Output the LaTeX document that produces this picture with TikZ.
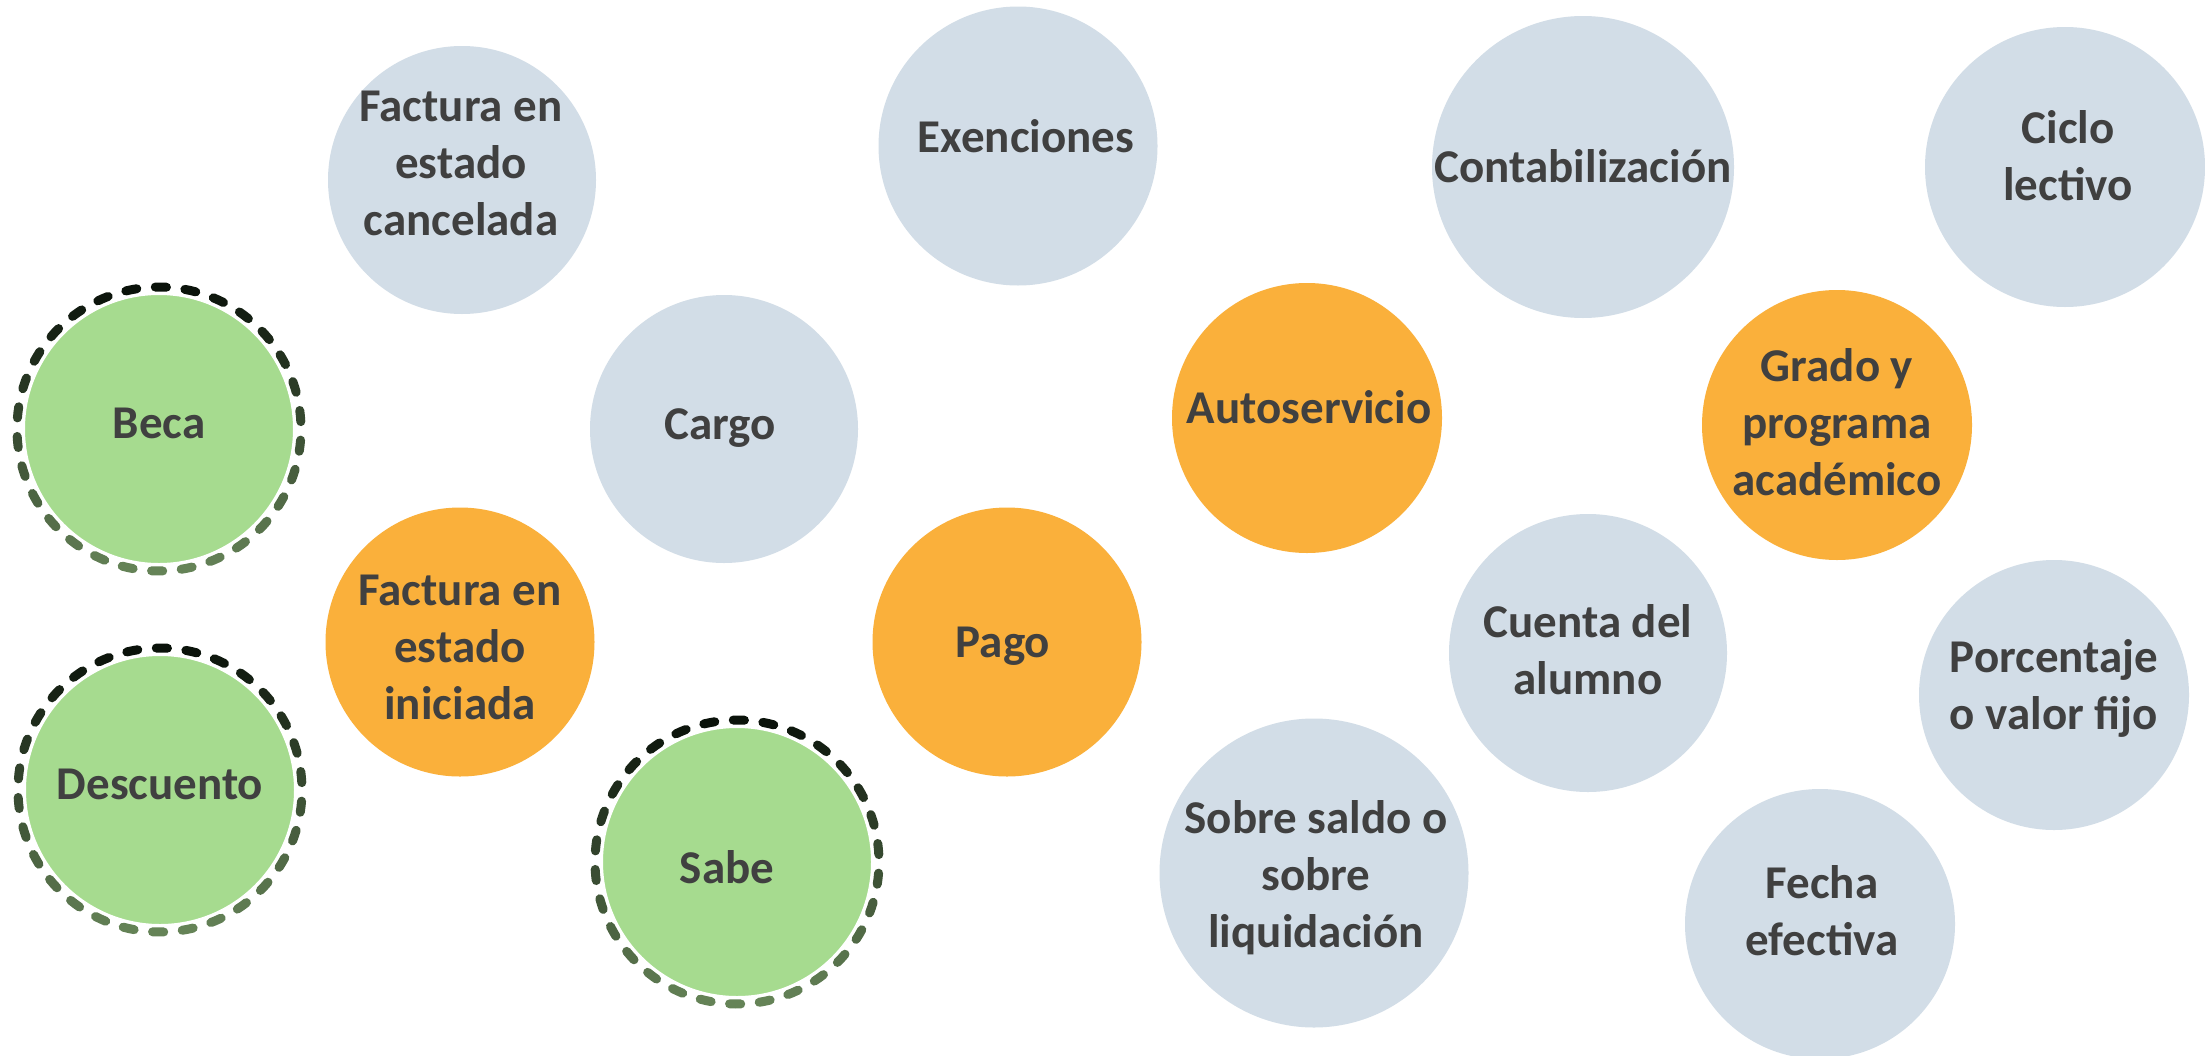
\documentclass[tikz,border=0pt]{standalone}
\usepackage{fontspec}
\setmainfont{Carlito}
\definecolor{bluegrey}{RGB}{210,221,231}
\definecolor{orangec}{RGB}{250,176,59}
\definecolor{greenc}{RGB}{166,219,143}
\definecolor{txtgrey}{RGB}{64,64,64}
\definecolor{ringtop}{RGB}{10,18,10}
\definecolor{ringbot}{RGB}{102,132,88}
\tikzset{
  bubble/.style={circle, inner sep=0pt, minimum size=#1, draw=none},
  greyb/.style={bubble=#1, fill=bluegrey},
  orangeb/.style={bubble=#1, fill=orangec},
  greenb/.style={bubble=#1, fill=greenc, draw=white, line width=2pt},
  lbl/.style={font=\fontsize{47}{57}\selectfont\bfseries, text=txtgrey, align=center, inner sep=0pt},
  ringdash/.style={line width=9pt, line cap=round},
}
\begin{document}
\begin{tikzpicture}[x=1pt,y=-1pt]
\path[use as bounding box, fill=white] (0,0) rectangle (2205,1055);

% circles
\node[greyb=268] (cancel) at (462,180) {};
\node[greyb=279] (exen) at (1018,146) {};
\node[greyb=302] (conta) at (1583,167) {};
\node[greyb=280] (ciclo) at (2065,167) {};
\node[greenb=270] (beca) at (159,429) {};
\node[greyb=268] (cargo) at (724,429) {};
\node[orangeb=270] (auto) at (1307,418) {};
\node[orangeb=270] (grado) at (1837,425) {};
\node[orangeb=269] (inic) at (460,642) {};
\node[orangeb=269] (pago) at (1007,642) {};
\node[greyb=278] (cuenta) at (1588,653) {};
\node[greyb=270] (porc) at (2054,695) {};
\node[greenb=270] (desc) at (160,790) {};
\node[greenb=270] (sabe) at (737,862) {};
\node[greyb=309] (sobre) at (1314,873) {};
\node[greyb=270] (fecha) at (1820,924) {};

% dashed gradient rings
\foreach \n in {beca,desc,sabe}{
  \foreach \i in {0,...,29}{
    \pgfmathsetmacro\a{\i*12+3}
    \pgfmathtruncatemacro\p{50-50*sin(\a)}
    \draw[ringdash, color=ringbot!\p!ringtop] (\n.center) ++(\a:142pt) arc[start angle=\a, end angle=\a+4.5, radius=142pt];
  }
}

% labels
\node[lbl] (tcancel) at (461,163) {Factura en\\estado\\cancelada};
\node[lbl] (texen) at (1026,136) {Exenciones};
\node[lbl] (tconta) at (1583,166) {Contabilización};
\node[lbl] (tciclo) at (2068,156) {Ciclo\\lectivo};
\node[lbl] (tbeca) at (159,423) {Beca};
\node[lbl] (tcargo) at (720,428) {Cargo};
\node[lbl] (tauto) at (1309,407) {Autoservicio};
\node[lbl] (tgrado) at (1837,422) {Grado y\\programa\\académico};
\node[lbl] (tinic) at (460,647) {Factura en\\estado\\iniciada};
\node[lbl] (tpago) at (1003,646) {Pago};
\node[lbl] (tcuenta) at (1588,650) {Cuenta del\\alumno};
\node[lbl] (tporc) at (2054,688) {Porcentaje\\o valor fijo};
\node[lbl] (tdesc) at (160,784) {Descuento};
\node[lbl] (tsabe) at (727,867) {Sabe};
\node[lbl] (tsobre) at (1316,878) {Sobre saldo o\\sobre\\liquidación};
\node[lbl] (tfecha) at (1822,911) {Fecha\\efectiva};
\end{tikzpicture}
\end{document}
